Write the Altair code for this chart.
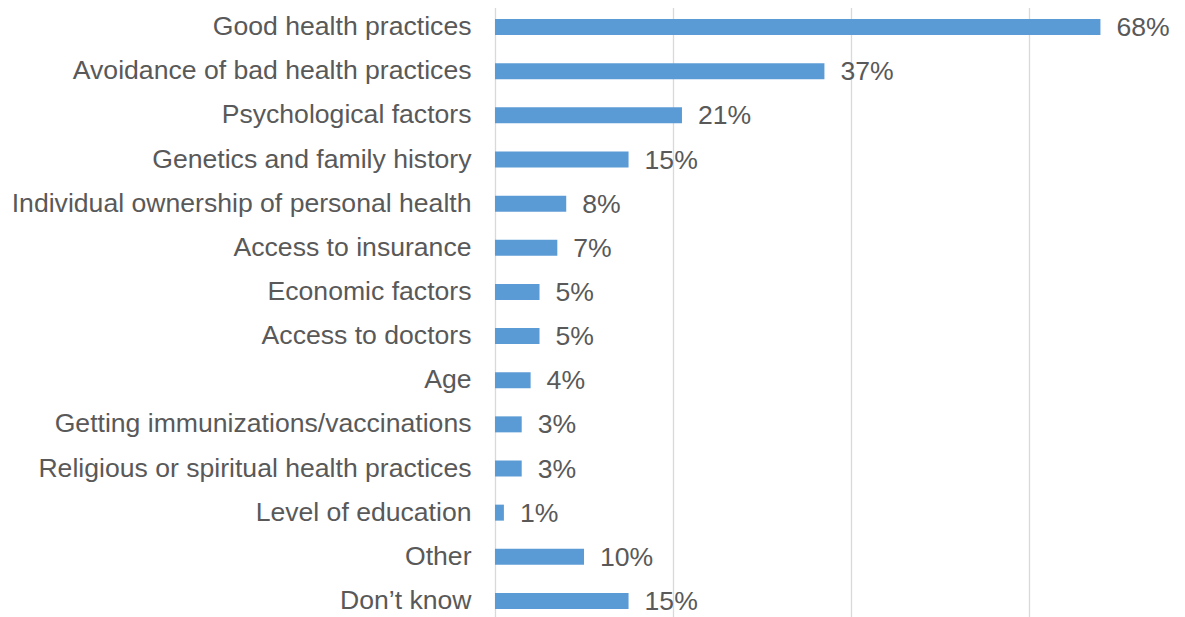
import altair as alt
import pandas as pd

categories = [
    "Good health practices",
    "Avoidance of bad health practices",
    "Psychological factors",
    "Genetics and family history",
    "Individual ownership of personal health",
    "Access to insurance",
    "Economic factors",
    "Access to doctors",
    "Age",
    "Getting immunizations/vaccinations",
    "Religious or spiritual health practices",
    "Level of education",
    "Other",
    "Don\u2019t know",
]
values = [0.68, 0.37, 0.21, 0.15, 0.08, 0.07, 0.05, 0.05, 0.04, 0.03, 0.03, 0.01, 0.10, 0.15]
grid_values = [0, 0.2, 0.4, 0.6]

df = pd.DataFrame({"cat": categories, "val": values})

FONT = "Liberation Sans"

y_enc = alt.Y(
    "cat:N",
    sort=categories,
    scale=alt.Scale(range=[-3, 615], paddingInner=0, paddingOuter=0),
    axis=alt.Axis(
        title=None,
        domain=False,
        ticks=False,
        grid=False,
        labelFont=FONT,
        labelFontSize=26.6,
        labelColor="#595959",
        labelPadding=24,
        labelLimit=600,
    ),
)
x_enc = alt.X(
    "val:Q",
    scale=alt.Scale(domain=[0, 0.766], nice=False),
    axis=alt.Axis(
        title=None,
        labels=False,
        ticks=False,
        domain=False,
        grid=True,
        values=grid_values,
        gridColor="#d9d9d9",
        gridWidth=1.3,
    ),
)

base = alt.Chart(df).encode(y=y_enc, x=x_enc)

bars = base.mark_bar(size=16, color="#5B9BD5")
labels = base.mark_text(
    align="left", baseline="middle", dx=16, dy=1, fontSize=26.6, font=FONT, color="#595959"
).encode(text=alt.Text("val:Q", format=".0%"))

chart = (
    alt.layer(bars, labels)
    .properties(
        width=682,
        height=609,
        padding={"left": 487, "top": 0, "right": 0, "bottom": 0},
        autosize=alt.AutoSizeParams(type="none"),
    )
    .configure_view(stroke=None)
)

chart.save("out.html", embed_options={"renderer": "svg", "actions": False})
